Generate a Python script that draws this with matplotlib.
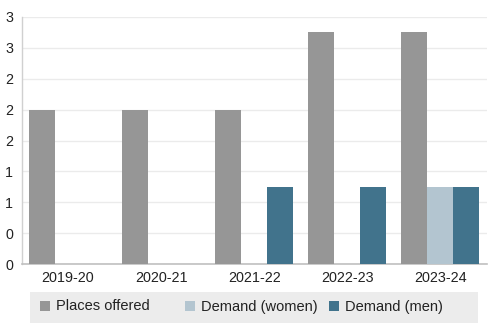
import matplotlib
matplotlib.use("Agg")
import matplotlib.pyplot as plt
from matplotlib.patches import Rectangle
import numpy as np

categories = ["2019-20", "2020-21", "2021-22", "2022-23", "2023-24"]
series_names = ["Places offered", "Demand (women)", "Demand (men)"]
places_offered = [2, 2, 2, 3, 3]
demand_women = [0, 0, 0, 0, 1]
demand_men = [0, 0, 1, 1, 1]
series_values = [places_offered, demand_women, demand_men]
colors = ["#969696", "#b3c5d0", "#41738c"]
yticks = [0, 0.4, 0.8, 1.2, 1.6, 2.0, 2.4, 2.8, 3.2]

W, H = 494, 334
fig = plt.figure(figsize=(W / 100, H / 100), dpi=100)
plt.rcParams['font.family'] = ['Liberation Sans', 'DejaVu Sans']

ax = fig.add_axes([21.5 / W, (H - 264) / H, 465.5 / W, 247 / H])
x = np.arange(len(categories))
bw = 26 / 93
for i, (vals, c) in enumerate(zip(series_values, colors)):
    ax.bar(x + (i - 1) * bw, vals, width=bw, color=c, zorder=3, linewidth=0)

ax.set_xlim(-0.5, len(categories) - 0.5)
ax.set_ylim(0, 3.2)
ax.set_yticks(yticks)
ax.set_yticklabels([f"{round(v):d}" for v in yticks], fontsize=10.3, color="#222222")
ax.set_xticks(x)
ax.set_xticklabels(categories, fontsize=10.4, color="#222222")
ax.tick_params(axis='both', length=0)
ax.tick_params(axis='y', pad=6)
ax.tick_params(axis='x', pad=5)
ax.grid(axis='y', color="#ebebeb", linewidth=1, zorder=0)
for s in ["top", "right"]:
    ax.spines[s].set_visible(False)
ax.spines["left"].set_color("#d0d0d0")
ax.spines["bottom"].set_color("#c0c0c0")
ax.spines["left"].set_linewidth(1)
ax.spines["bottom"].set_linewidth(1.2)

# legend box (figure pixel coordinates)
def fx(px):
    return px / W
def fy(py):
    return 1 - py / H

fig.patches.append(Rectangle((fx(30), fy(323)), (478 - 30) / W, (323 - 292) / H,
                             transform=fig.transFigure, facecolor="#ececec",
                             edgecolor="none", zorder=0))
sq_x = [40, 185, 329]
for name, c, sx in zip(series_names, colors, sq_x):
    fig.patches.append(Rectangle((fx(sx), fy(311)), 10 / W, 10 / H,
                                 transform=fig.transFigure, facecolor=c,
                                 edgecolor="none", zorder=1))
    fig.text(fx(sx + 16), fy(306.5), name, fontsize=10.5, color="#222222",
             va="center", ha="left")

fig.savefig("out.png", dpi=100)
